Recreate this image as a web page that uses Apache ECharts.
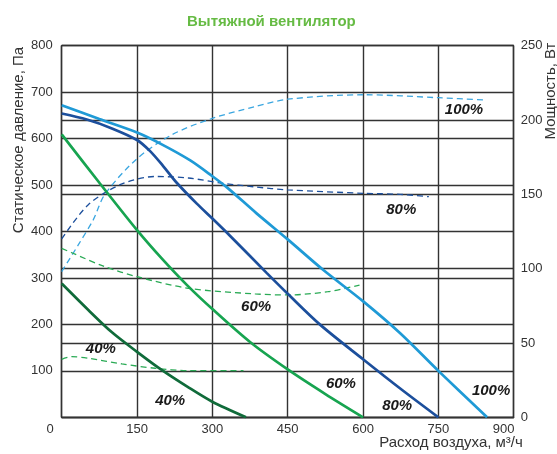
<!DOCTYPE html>
<html>
<head>
<meta charset="utf-8">
<script src="https://cdn.jsdelivr.net/npm/echarts@6/dist/echarts.min.js"></script>
<style>html,body{margin:0;padding:0;background:#fff}#c{width:557px;height:454px}</style>
</head>
<body>
<div id="c"></div>
<script>
// Tick labels
const xTicks = [0, 150, 300, 450, 600, 750, 900];
const pressureTicks = [0, 100, 200, 300, 400, 500, 600, 700, 800];
const powerTicks = [0, 50, 100, 150, 200, 250];

// Static pressure curves [flow m3/h, Pa]
const pressure100 = [[0,672],[75,642],[150,613],[202,586],[256,553],[300,519],[329,495],[388,439],[450,383],[521,317],[601,249],[674,181],[750,100],[847,0]];
const pressure80 = [[0,654],[50,641],[100,622],[150,597],[176,573],[202,541],[229,505],[269,460],[300,428],[335,391],[408,311],[450,266],[515,199],[600,125],[674,62],[750,0]];
const pressure60 = [[0,609],[75,505],[150,403],[200,341],[250,284],[300,233],[375,162],[450,103],[525,50],[600,0]];
const pressure40 = [[0,288],[53,231],[100,183],[150,141],[199,102],[250,66],[299,34],[367,0]];

// Power curves [flow m3/h, W]
const power100 = [[0,98],[33,116],[63,133],[86,150],[150,174],[219,190],[299,201],[385,209],[450,214],[601,217],[750,215],[843,213.5]];
const power80 = [[0,120],[53,143],[120,157],[186,162],[252,161],[319,157.5],[385,155],[450,153],[601,150.7],[674,150],[731,148.4]];
const power60 = [[0,113.7],[20,110.7],[86,101.3],[150,94.6],[252,86.8],[385,83],[450,82.3],[530,84.5],[593,89]];
const power40 = [[0,39],[20,40.8],[53,39.7],[120,35.9],[186,33],[252,31.4],[362,31.4]];

// Curve labels [flow, Pa, text]
const curveLabels = [[801,662,'100%'],[676,446,'80%'],[387,237,'60%'],[78,147,'40%'],[216,35,'40%'],[556,72,'60%'],[668,24,'80%'],[855,57,'100%']];

const C100 = '#1f9ad6', C80 = '#1c4f9c', C60 = '#17a450', C40 = '#106b3a', C60d = '#2aaa55';
const gridColor = '#333';

function solid(data, color){
  return {type:'line', data, yAxisIndex:0, smooth:0.3, showSymbol:false, silent:true,
    lineStyle:{color, width:2.7}};
}
function dashed(data, color){
  return {type:'line', data, yAxisIndex:1, smooth:0.3, showSymbol:false, silent:true,
    lineStyle:{color, width:1.3, type:[6,4]}};
}

const chart = echarts.init(document.getElementById('c'), null, {renderer:'canvas'});
chart.setOption({
  animation:false,
  backgroundColor:'#fff',
  title:{text:'Вытяжной вентилятор', left:182, top:9,
    textStyle:{color:'#66bb44', fontSize:15, fontWeight:'bold', fontFamily:'Liberation Sans, Arial, sans-serif'}},
  grid:{left:61.7, right:43.3, top:45.7, bottom:36.7},
  xAxis:{type:'value', min:xTicks[0], max:xTicks[xTicks.length-1], interval:150,
    axisLine:{show:true, lineStyle:{color:gridColor, width:1.4}},
    axisTick:{show:false},
    splitLine:{show:true, lineStyle:{color:gridColor, width:1.4}},
    axisLabel:{color:'#333', fontSize:13, fontFamily:'Liberation Sans, Arial, sans-serif', margin:6,
      formatter:function(v){ if(v===0) return '{l|0}'; if(v===900) return '{r|900}'; return String(v);},
      rich:{l:{padding:[0,23,0,0], fontSize:13, color:'#333'}, r:{padding:[0,20,0,0], fontSize:13, color:'#333'}}}
  },
  yAxis:[
    {type:'value', min:pressureTicks[0], max:pressureTicks[pressureTicks.length-1], interval:100, position:'left',
      axisLine:{show:true, lineStyle:{color:gridColor, width:1.4}},
      axisTick:{show:false},
      splitLine:{show:true, lineStyle:{color:gridColor, width:1.4}},
      axisLabel:{color:'#333', fontSize:13, fontFamily:'Liberation Sans, Arial, sans-serif', margin:9,
        formatter:function(v){ return v===0 ? '' : String(v);}}
    },
    {type:'value', min:powerTicks[0], max:powerTicks[powerTicks.length-1], interval:50, position:'right',
      axisLine:{show:true, lineStyle:{color:gridColor, width:1.4}},
      axisTick:{show:false},
      splitLine:{show:true, lineStyle:{color:gridColor, width:1.4}},
      axisLabel:{color:'#333', fontSize:13, fontFamily:'Liberation Sans, Arial, sans-serif', margin:7}
    }
  ],
  graphic:[
    {type:'text', x:19, y:140, rotation:Math.PI/2,
      style:{text:'Статическое давление, Па', fill:'#333', font:'15px "Liberation Sans", Arial, sans-serif', align:'center', verticalAlign:'middle'}},
    {type:'text', x:551, y:91, rotation:Math.PI/2,
      style:{text:'Мощность, Вт', fill:'#333', font:'15px "Liberation Sans", Arial, sans-serif', align:'center', verticalAlign:'middle'}},
    {type:'text', x:451, y:443,
      style:{text:'Расход воздуха, м³/ч', fill:'#333', font:'15px "Liberation Sans", Arial, sans-serif', align:'center', verticalAlign:'middle'}}
  ],
  series:[
    dashed(power100, '#3aa6e0'),
    dashed(power80, C80),
    dashed(power60, C60d),
    dashed(power40, C60d),
    solid(pressure100, C100),
    solid(pressure80, C80),
    solid(pressure60, C60),
    solid(pressure40, C40),
    {type:'scatter', yAxisIndex:0, symbolSize:0, silent:true, itemStyle:{opacity:1},
      data:curveLabels.map(d=>({value:[d[0],d[1]], name:d[2]})),
      label:{show:true, position:'inside', formatter:p=>p.name, color:'#1a1a1a', opacity:1, textBorderWidth:0,
        fontSize:15, fontWeight:'bold', fontStyle:'italic', fontFamily:'Liberation Sans, Arial, sans-serif'}}
  ]
});
</script>
</body>
</html>
